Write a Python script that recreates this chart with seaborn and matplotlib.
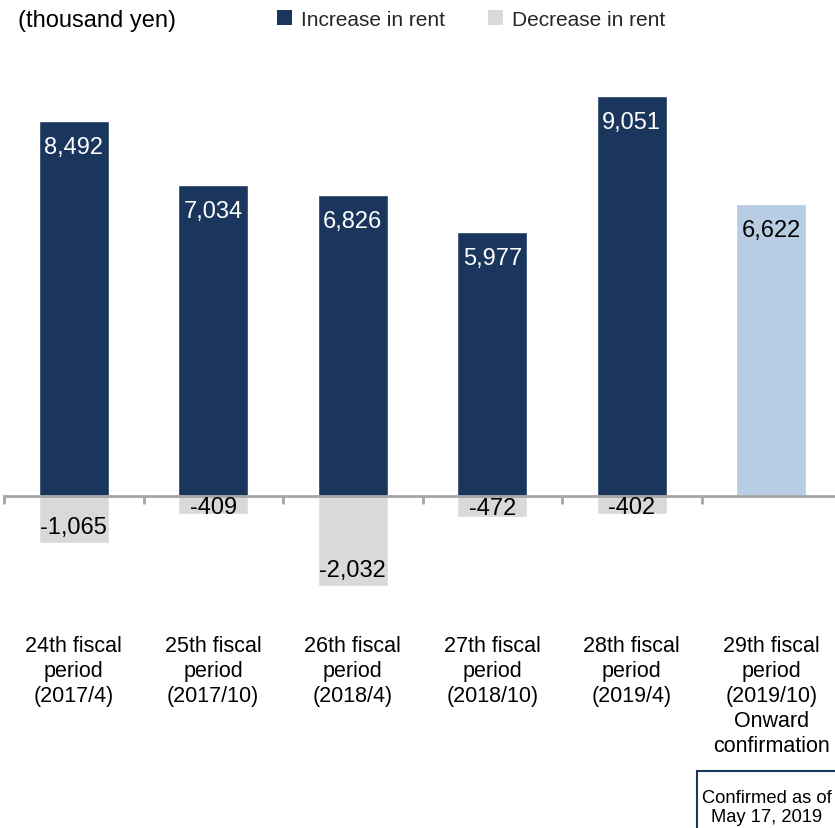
import matplotlib
matplotlib.use("Agg")
import matplotlib.pyplot as plt
import seaborn as sns
import pandas as pd
from matplotlib.patches import Patch, Rectangle

periods = [
    "24th fiscal\nperiod\n(2017/4)",
    "25th fiscal\nperiod\n(2017/10)",
    "26th fiscal\nperiod\n(2018/4)",
    "27th fiscal\nperiod\n(2018/10)",
    "28th fiscal\nperiod\n(2019/4)",
    "29th fiscal\nperiod\n(2019/10)\nOnward\nconfirmation",
]
increase = [8492, 7034, 6826, 5977, 9051, 6622]
decrease = [-1065, -409, -2032, -472, -402, None]
legend_labels = ["Increase in rent", "Decrease in rent"]
unit_label = "(thousand yen)"
note_text = "Confirmed as of\nMay 17, 2019"

NAVY = "#1b365d"
LIGHT_BLUE = "#b8cce4"
GRAY = "#d9d9d9"
AXIS_GRAY = "#a6a6a6"
TEXT = "#000000"

sns.set_style("white")
plt.rcParams["font.family"] = ["Liberation Sans", "DejaVu Sans"]

fig = plt.figure(figsize=(8.35, 8.29), dpi=100)
W, H = 835, 829
PT = 72 / 100  # points per pixel
# axes: x from px 4 to 841, y from px 60 to 600
ax = fig.add_axes([4 / W, (H - 600) / H, 837 / W, 540 / H])

df = pd.DataFrame({"period": periods, "increase": increase, "decrease": decrease})
pal = [NAVY] * 5 + [LIGHT_BLUE]
sns.barplot(data=df, x="period", y="increase", hue="period", palette=pal,
            width=0.5, legend=False, ax=ax, saturation=1)
sns.barplot(data=df.dropna(), x="period", y="decrease", color=GRAY,
            width=0.5, ax=ax, saturation=1, order=periods)

px_per_unit = 375 / 8492.0
y_top = (497 - 60) / px_per_unit
y_bot = -(600 - 497) / px_per_unit
ax.set_xlim(-0.5, 5.5)
ax.set_ylim(y_bot, y_top)

# value labels
for i, v in enumerate(increase):
    col = "white" if i < 5 else TEXT
    ax.annotate(f"{v:,}", (i, v), xytext=(0, -26 * PT), textcoords="offset points",
                ha="center", va="center", fontsize=17, color=col)
for i, v in enumerate(decrease):
    if v is None or pd.isna(v):
        continue
    bar_px = -v * px_per_unit
    off = min(18, bar_px / 2) - 2
    ax.annotate(f"{int(v):,}", (i, v), xytext=(0, off * PT), textcoords="offset points",
                ha="center", va="center", fontsize=17, color=TEXT)

# axis styling
for s in ["top", "right", "left"]:
    ax.spines[s].set_visible(False)
ax.spines["bottom"].set_position(("data", 0))
ax.spines["bottom"].set_color(AXIS_GRAY)
ax.spines["bottom"].set_linewidth(2)
ax.set_yticks([])
ax.set_xlabel("")
ax.set_ylabel("")
ax.set_xticks(range(len(periods)))
ax.set_xticklabels(periods, fontsize=15.5, color=TEXT, linespacing=1.25, va="top")
ax.tick_params(axis="x", which="major", length=0, pad=139 * PT, bottom=True)
ax.set_xticks([i - 0.5 for i in range(len(periods) + 1)], minor=True)
ax.tick_params(axis="x", which="minor", length=8 * PT, width=2, color=AXIS_GRAY,
               direction="out", bottom=True)

# unit label
fig.text(18 / W, 1 - 21 / H, unit_label, fontsize=17, ha="left", va="center", color=TEXT)

# legend
handles = [Patch(facecolor=NAVY, edgecolor="none"), Patch(facecolor=GRAY, edgecolor="none")]
fs_leg = 15
px_leg = fs_leg / PT
fig.legend(handles, legend_labels, loc="center left", bbox_to_anchor=(277 / W, 1 - 20 / H),
           ncol=2, frameon=False, fontsize=fs_leg, handlelength=15 / px_leg,
           handleheight=15 / px_leg, handletextpad=9 / px_leg, columnspacing=43 / px_leg,
           borderaxespad=0, borderpad=0)

# note box
fig.patches.append(Rectangle((697 / W, -0.05), 0.3, (829 - 772) / H + 0.05,
                             transform=fig.transFigure, facecolor="white",
                             edgecolor=NAVY, linewidth=1.5))
fig.text(767 / W, 1 - 808 / H, note_text, fontsize=13.2, ha="center", va="center",
         color=TEXT, linespacing=1.15)

fig.savefig("out.png", dpi=100)
